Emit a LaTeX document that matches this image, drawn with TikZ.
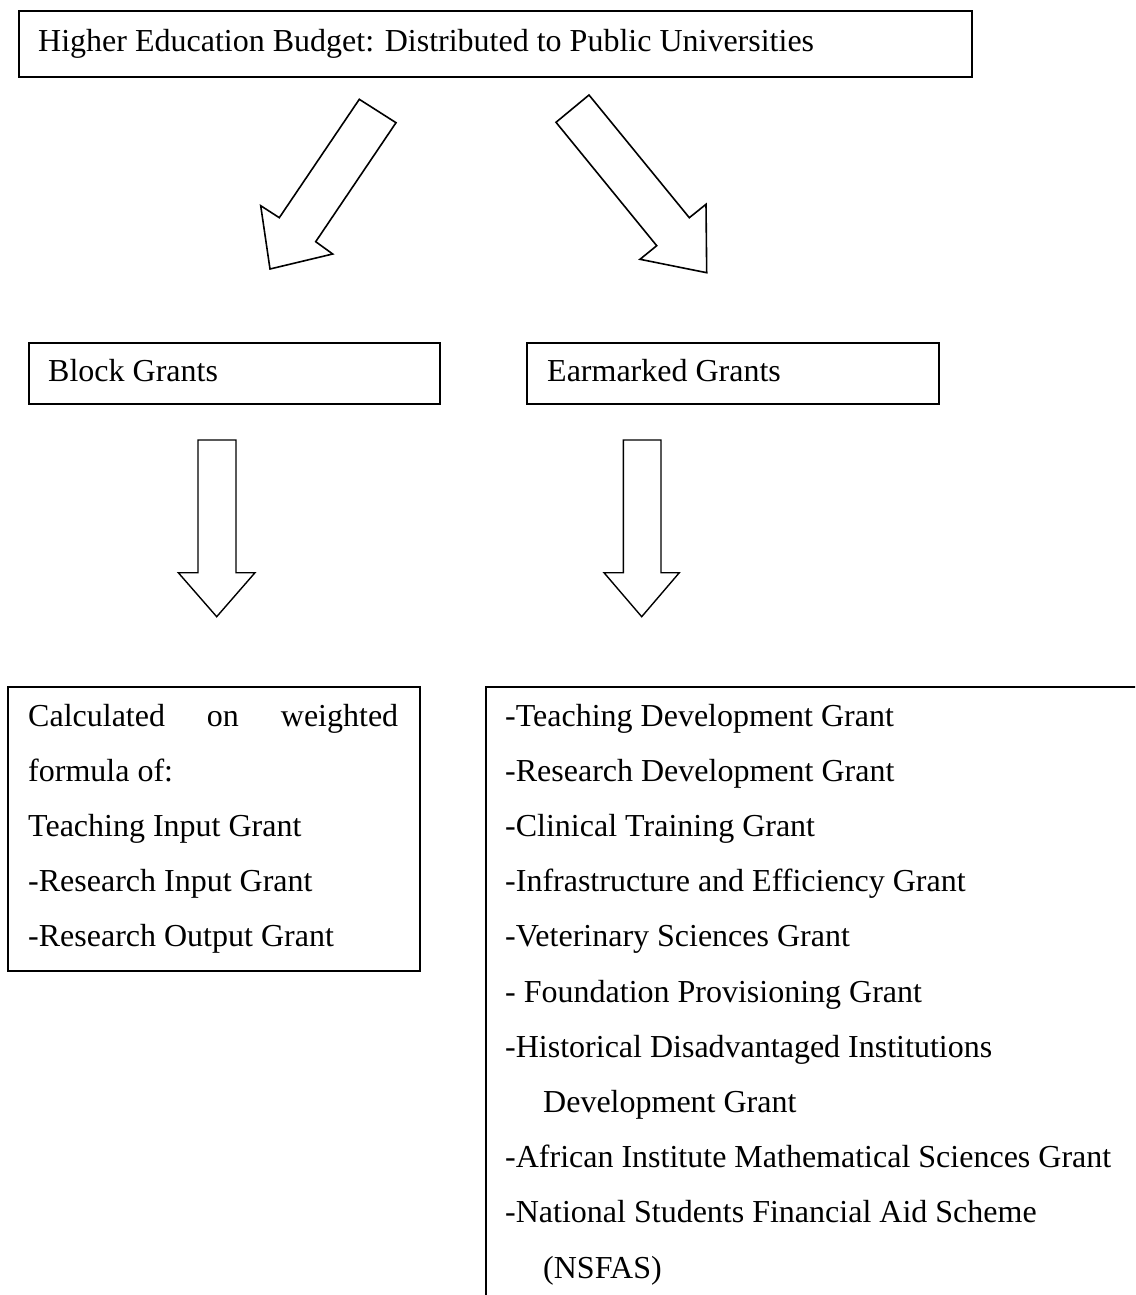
\documentclass[tikz,border=0pt]{standalone}
\usepackage{fontspec}
\setmainfont{Liberation Serif}
\begin{document}
\begin{tikzpicture}[x=1pt,y=-1pt,
  box/.style={draw, line width=1.6pt, rectangle, inner sep=0pt, anchor=north west},
  txt/.style={anchor=base west, inner sep=0pt, font=\fontsize{32}{55}\selectfont},
  blockarrow/.style={draw, line width=1.6pt, line join=miter, fill=white}]
\useasboundingbox (0,0) rectangle (1135,1295);
\clip (0,0) rectangle (1135,1295);

% top box
\node[box, minimum width=953pt, minimum height=66pt] (budget) at (18,10) {};
\node[txt] (budgettxt) at (38,51.7) {Higher Education Budget: Distributed to Public Universities};

% second level boxes
\node[box, minimum width=411pt, minimum height=61pt] (block) at (28,342) {};
\node[txt] (blocktxt) at (48,381.7) {Block Grants};
\node[box, minimum width=412pt, minimum height=61pt] (earmarked) at (526,342) {};
\node[txt] (earmarkedtxt) at (547,381.7) {Earmarked Grants};

% diagonal block arrows from the budget box
\draw[blockarrow] (359.3,99.3) -- (396,122.7) -- (315.7,241.7) -- (332.7,254)
  -- (270,269) -- (260.7,205.7) -- (279.3,217.7) -- cycle;
\draw[blockarrow] (589,95) -- (556,122.3) -- (656.7,245.7) -- (640,259.3)
  -- (706.7,272.7) -- (706,204.3) -- (689.3,217.7) -- cycle;

% vertical block arrows
\draw[blockarrow, line width=1.4pt] (198,440) -- (236,440) -- (236,572.7) -- (255,572.7)
  -- (216.7,616.7) -- (178.3,572.7) -- (198,572.7) -- cycle;
\draw[blockarrow, line width=1.4pt] (623.3,440) -- (661,440) -- (661,572.7) -- (679.3,572.7)
  -- (641.7,616.7) -- (604,572.7) -- (623.3,572.7) -- cycle;

% block grant details
\node[box, minimum width=412pt, minimum height=284pt] (blockdetail) at (7,686) {};
\node[txt] (bl1) at (28,726) {\hbox to 370pt{Calculated\hfill on\hfill weighted}};
\node[txt] (bl2) at (28,781) {formula of:};
\node[txt] (bl3) at (28,836) {Teaching Input Grant};
\node[txt] (bl4) at (28,891) {-Research Input Grant};
\node[txt] (bl5) at (28,946) {-Research Output Grant};

% earmarked grant details
\node[box, minimum width=670pt, minimum height=630pt] (eardetail) at (485,686) {};
\node[txt] (er1) at (505,726) {-Teaching Development Grant};
\node[txt] (er2) at (505,781.2) {-Research Development Grant};
\node[txt] (er3) at (505,836.4) {-Clinical Training Grant};
\node[txt] (er4) at (505,891.6) {-Infrastructure and Efficiency Grant};
\node[txt] (er5) at (505,946.8) {-Veterinary Sciences Grant};
\node[txt] (er6) at (505,1002) {- Foundation Provisioning Grant};
\node[txt] (er7) at (505,1057.2) {-Historical Disadvantaged Institutions};
\node[txt] (er8) at (543,1112.4) {Development Grant};
\node[txt] (er9) at (505,1167.6) {-African Institute Mathematical Sciences Grant};
\node[txt] (er10) at (505,1222.8) {-National Students Financial Aid Scheme};
\node[txt] (er11) at (543,1278) {(NSFAS)};
\end{tikzpicture}
\end{document}
